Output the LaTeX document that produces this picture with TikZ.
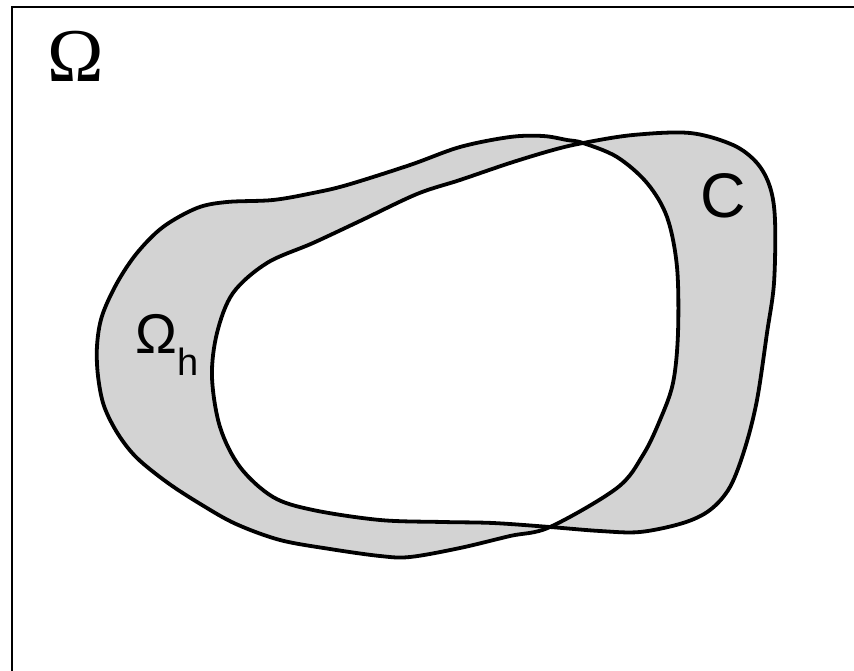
\documentclass[tikz,border=0pt]{standalone}
\usepackage{fontspec}
\setmainfont{Liberation Serif}
\newfontfamily\labelsans{Liberation Sans}
\definecolor{bandgray}{RGB}{211,211,211}
\begin{document}
\begin{tikzpicture}[x=1pt,y=-1pt,
  curve/.style={line width=3.8pt, line join=round},
  frameline/.style={line width=2pt},
  lbl/.style={inner sep=0pt, anchor=base}]
\useasboundingbox (0,0) rectangle (854,671);
\def\curveP{plot[smooth cycle, tension=0.55] coordinates {
 (583,143) (617,157) (647,183) (667,217) (677,267) (678,333) (673,383) (660,420) (643,455) (617,488)
 (550,527) (510,536) (460,548) (410,557) (380,556) (330,549) (280,540) (236,524) (202,505) (168,483)
 (137,458) (118,434) (104,406) (98,376) (97,346) (102,316) (117,283) (137,253) (163,227) (197,208) (227,202)
 (273,200) (313,193) (347,185) (410,165) (460,147) (510,137) (543,136) (567,140)}}
\def\curveQ{plot[smooth cycle, tension=0.55] coordinates {
 (583,143) (633,135) (690,133) (733,145) (757,163) (770,187) (775,220) (774,283) (767,333) (757,400) (745,448)
 (730,487) (710,510) (683,523) (640,532) (600,531) (550,527) (493,523) (443,522) (380,520) (313,510) (273,497)
 (240,467) (220,427) (212,377) (217,333) (233,293) (267,263) (313,243) (360,221) (417,194) (460,180)
 (510,163) (553,150)}}
\fill[bandgray, even odd rule] \curveP \curveQ;
\draw[curve] \curveP;
\draw[curve] \curveQ;
\draw[frameline] (854,7.5) -- (12,7.5) -- (12,671);
\node[lbl] (omega) at (76,82) {\fontsize{76}{76}\selectfont Ω};
\node[lbl] (omegah) at (156,353) {\labelsans\fontsize{56}{56}\selectfont Ω};
\node[lbl] (hsub) at (188,375) {\labelsans\fontsize{38}{38}\selectfont h};
\node[lbl] (clabel) at (723,218) {\labelsans\fontsize{63}{63}\selectfont C};
\end{tikzpicture}
\end{document}
